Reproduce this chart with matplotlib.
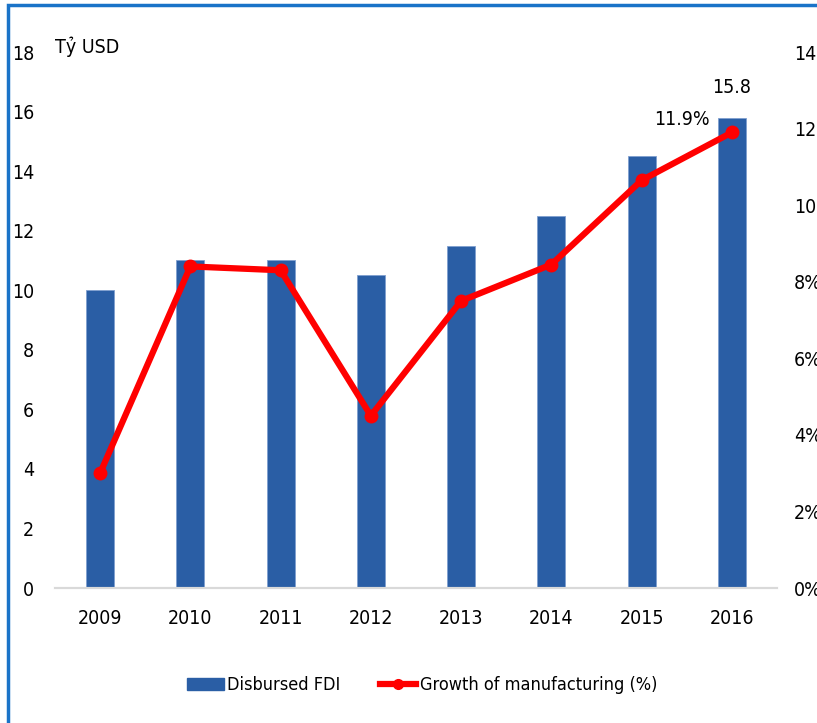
import matplotlib.pyplot as plt
import matplotlib.font_manager as fm
from matplotlib.patches import Rectangle
from matplotlib.lines import Line2D
import numpy as np

# narrow sans like the original (Arial Narrow look)
names = set(f.name for f in fm.fontManager.ttflist)
if 'Liberation Sans Narrow' in names:
    plt.rcParams['font.family'] = ['Liberation Sans Narrow', 'DejaVu Sans']
else:
    plt.rcParams['font.family'] = ['DejaVu Sans']
    plt.rcParams['font.stretch'] = 'condensed'

years = ['2009', '2010', '2011', '2012', '2013', '2014', '2015', '2016']
fdi = [10.0, 11.0, 11.0, 10.5, 11.5, 12.5, 14.5, 15.8]
growth = [3.0, 8.4, 8.3, 4.5, 7.5, 8.45, 10.65, 11.9]

bar_color = '#2a5ea5'
line_color = '#ff0000'
fs = 14

fig = plt.figure(figsize=(8.17, 7.23), dpi=100)
ax = fig.add_axes([0.0673, 0.1867, 0.8837, 0.7413])
ax2 = ax.twinx()

x = np.arange(len(years))
ax.bar(x, fdi, 0.31, color=bar_color, edgecolor='#7f9fcf', linewidth=0.6, zorder=2)
ax2.plot(x, growth, color=line_color, lw=4.5, marker='o', ms=9, zorder=3)

ax.set_xlim(-0.5, 7.5)
ax.set_ylim(0, 18)
ax.set_yticks(range(0, 19, 2))
ax2.set_ylim(0, 14)
ax2.set_yticks(range(0, 15, 2))
ax2.set_yticklabels([f'{v}%' for v in range(0, 15, 2)])
ax.set_xticks(x)
ax.set_xticklabels(years)

for a in (ax, ax2):
    for s in ['top', 'left', 'right']:
        a.spines[s].set_visible(False)
    a.spines['bottom'].set_color('#d9d9d9')
    a.spines['bottom'].set_linewidth(1.5)
    a.tick_params(length=0, labelsize=fs)
ax.tick_params(axis='y', pad=15)
ax.tick_params(axis='x', pad=15)
ax2.tick_params(axis='y', pad=12)

ax.text(0.0, 1.01, 'Tỷ USD', transform=ax.transAxes, fontsize=fs, va='center', ha='left')
ax.text(x[-1], fdi[-1] + 0.7, '15.8', fontsize=fs, ha='center', va='bottom')
ax2.text(x[-1] - 0.25, growth[-1] + 0.1, '11.9%', fontsize=fs, ha='right', va='bottom')

handles = [Rectangle((0, 0), 1, 1, color=bar_color),
           Line2D([0], [0], color=line_color, lw=4.5, marker='o', ms=7)]
fig.legend(handles, ['Disbursed FDI', 'Growth of manufacturing (%)'],
           loc='center', bbox_to_anchor=(0.517, 0.052), ncol=2, frameon=False,
           fontsize=13, handlelength=2.0, columnspacing=2.2, handletextpad=0.2)

# blue frame around the picture (cut off at right and bottom)
fig.patches.append(Rectangle((0.0098, -0.05), 1.1, 1.043, transform=fig.transFigure,
                             fill=False, edgecolor='#1a73c8', lw=2.5))

fig.savefig('out.png', dpi=100)
